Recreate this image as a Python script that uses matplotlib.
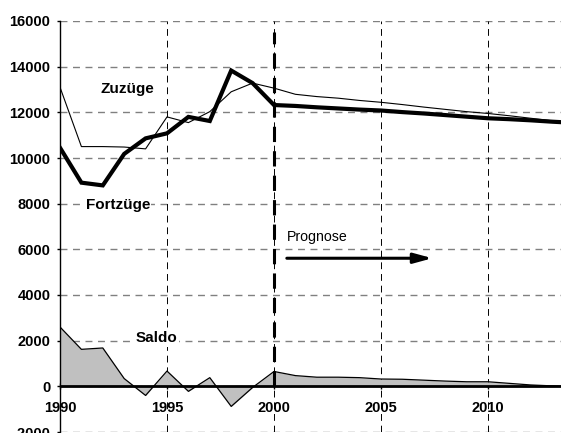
import matplotlib
matplotlib.use("Agg")
import matplotlib.pyplot as plt

# Wanderungen: Zuzüge, Fortzüge und Saldo (ab 2000 Prognose)
years = list(range(1990, 2015))
zuzuege = [13100, 10500, 10500, 10480, 10400, 11800, 11550, 12030, 12900, 13280,
           13060, 12790, 12690, 12620, 12520, 12440, 12340, 12230, 12130, 12030,
           11950, 11850, 11740, 11630, 11540]
fortzuege = [10450, 8920, 8800, 10180, 10860, 11080, 11800, 11620, 13830, 13280,
             12320, 12280, 12220, 12170, 12120, 12080, 12010, 11950, 11880, 11810,
             11740, 11700, 11650, 11590, 11540]
saldo = [2600, 1620, 1680, 340, -400, 670, -220, 380, -880, -50,
         650, 470, 400, 400, 380, 320, 310, 270, 230, 200,
         200, 130, 60, 20, 0]

x_ticks = [1990, 1995, 2000, 2005, 2010]
y_ticks = list(range(-2000, 16001, 2000))

plt.rcParams['font.family'] = ['Liberation Sans', 'DejaVu Sans']

fig = plt.figure(figsize=(5.61, 4.33), dpi=100)
ax = fig.add_axes([60 / 561, 1 / 433, 501 / 561, 411 / 433])
ax.set_xlim(1990, 1990 + 501 / 21.4)
ax.set_ylim(-2000, 16000)

# grid
for y in y_ticks:
    ax.axhline(y, color='#808080', lw=1.0, ls=(0, (5, 4)), zorder=1)
for x in x_ticks[1:]:
    ax.axvline(x, color='black', lw=0.7, ls=(0, (7, 5)), zorder=1)

# saldo area
ax.fill_between(years, saldo, 0, color='#c0c0c0', zorder=2, lw=0)
ax.plot(years, saldo, color='black', lw=0.9, zorder=3)

ax.plot(years, zuzuege, color='black', lw=0.8, zorder=4)
ax.plot(years, fortzuege, color='black', lw=3.0, zorder=5, solid_joinstyle='miter')

# Prognose-Grenze
ax.plot([2000, 2000], [0, 15500], color='black', lw=2.2, ls=(0, (5, 3)), zorder=6)
ax.axhline(0, color='black', lw=2.0, zorder=6)

box = dict(facecolor='white', edgecolor='none', pad=1)
ax.text(1993.13, 13030, 'Zuzüge', fontsize=11, fontweight='bold', ha='center', va='center', zorder=7)
ax.text(1992.7, 7940, 'Fortzüge', fontsize=11, fontweight='bold', ha='center', va='center', bbox=box, zorder=7)
ax.text(1994.53, 2100, 'Saldo', fontsize=11, fontweight='bold', ha='center', va='center', bbox=box, zorder=7)
ax.text(2000.6, 6530, 'Prognose', fontsize=10.2, ha='left', va='center', zorder=7)
ax.annotate('', xy=(2007.4, 5610), xytext=(2000.6, 5610),
            arrowprops=dict(arrowstyle='-|>,head_length=1.1,head_width=0.3', color='black', lw=2.2,
                            shrinkA=0, shrinkB=0), zorder=7)

# axes
for s in ['top', 'right']:
    ax.spines[s].set_visible(False)
ax.spines['bottom'].set_position(('data', 0))
ax.spines['bottom'].set_visible(False)
ax.spines['left'].set_linewidth(1.0)
ax.set_xticks(x_ticks)
ax.set_yticks(y_ticks)
ax.set_yticklabels([str(v) for v in y_ticks])
ax.tick_params(axis='x', direction='inout', length=5, width=1, pad=8, labelsize=10.5)
ax.tick_params(axis='y', direction='out', length=2, width=1, pad=5, labelsize=10.5)
for lbl in ax.get_xticklabels() + ax.get_yticklabels():
    lbl.set_fontweight('bold')

fig.savefig('out.png', dpi=100)
